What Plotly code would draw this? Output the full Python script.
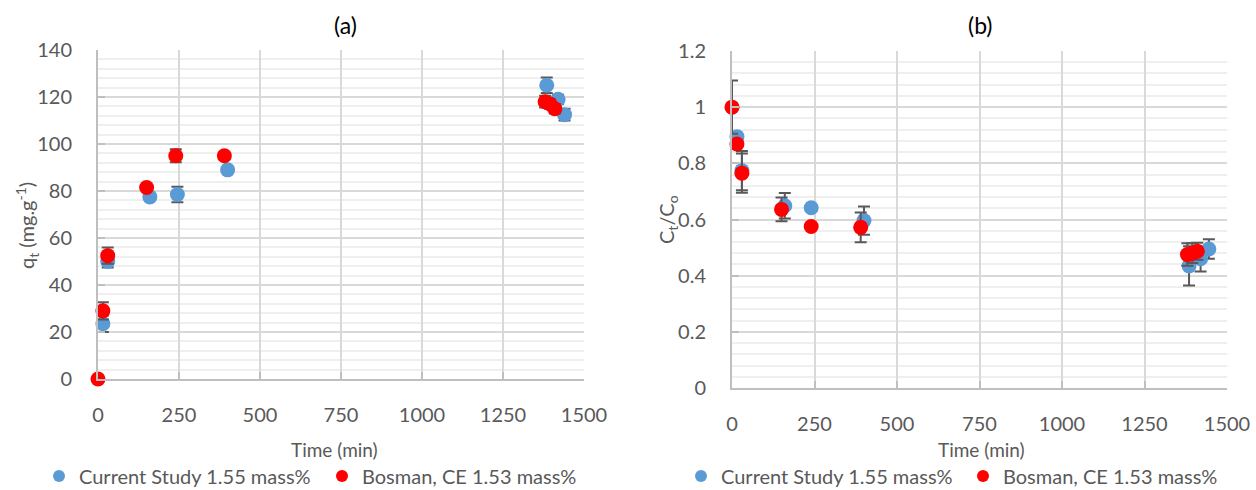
import plotly.graph_objects as go

# ---- data panel (a): q_t vs time ----
a_cur_t = [15, 30, 160, 245, 400, 1385, 1420, 1440]
a_cur_q = [23.5, 50.0, 77.5, 78.5, 89.0, 125.0, 119.0, 112.5]
a_cur_e = [3.5, 2.6, 0.0, 3.3, 0.0, 3.3, 2.0, 2.5]
a_bos_t = [0, 15, 30, 150, 240, 390, 1380, 1395, 1410]
a_bos_q = [0.0, 29.0, 52.5, 81.5, 95.0, 95.0, 118.0, 117.0, 115.0]
a_bos_e = [0.0, 3.7, 3.5, 0.0, 2.8, 1.5, 2.5, 2.0, 2.0]

# ---- data panel (b): Ct/Co vs time ----
b_cur_t = [15, 30, 160, 240, 400, 1385, 1420, 1445]
b_cur_c = [0.895, 0.774, 0.649, 0.642, 0.596, 0.435, 0.46, 0.495]
b_cur_e = [0.0, 0.07, 0.045, 0.0, 0.05, 0.07, 0.045, 0.035]
b_bos_t = [0, 15, 30, 150, 240, 390, 1380, 1395, 1410]
b_bos_c = [1.0, 0.869, 0.765, 0.636, 0.575, 0.572, 0.475, 0.48, 0.487]
b_bos_e = [0.095, 0.0, 0.07, 0.042, 0.0, 0.053, 0.04, 0.035, 0.03]

x_ticks = [0, 250, 500, 750, 1000, 1250, 1500]
legend_names = ["Current Study 1.55 mass%", "Bosman, CE 1.53 mass%"]

BLUE = "#5B9BD5"
RED = "#FF0000"
ERR = "#595959"
FONT = "Lato"
GREY = "#595959"

W, H = 1256, 490

def px_x(p):
    return p / W

def px_y(p):
    return 1 - p / H

fig = go.Figure()

def add(t, v, e, color, name, xa, ya, legend, show):
    fig.add_trace(go.Scatter(
        x=t, y=v, mode="markers", name=name,
        marker=dict(color=color, size=15),
        error_y=dict(type="data", array=e, visible=True, color=ERR, thickness=2, width=6),
        xaxis=xa, yaxis=ya, legend=legend, showlegend=show, cliponaxis=False,
    ))

add(a_cur_t, a_cur_q, a_cur_e, BLUE, legend_names[0], "x", "y", "legend", True)
add(a_bos_t, a_bos_q, a_bos_e, RED, legend_names[1], "x", "y", "legend", True)
add(b_cur_t, b_cur_c, b_cur_e, BLUE, legend_names[0], "x2", "y2", "legend2", True)
add(b_bos_t, b_bos_c, b_bos_e, RED, legend_names[1], "x2", "y2", "legend2", True)

xcommon = dict(range=[0, 1500], tickvals=x_ticks, showgrid=True, gridcolor="#D9D9D9", gridwidth=2,
               showline=True, linecolor="#BFBFBF", linewidth=2, mirror=False,
               ticks="inside", ticklen=7, tickcolor="#BFBFBF", tickwidth=2,
               tickfont=dict(family=FONT, size=20, color=GREY), zeroline=False,
               ticklabelstandoff=17)
ycommon = dict(showgrid=True, gridcolor="#D9D9D9", gridwidth=2,
               showline=True, linecolor="#BFBFBF", linewidth=2,
               ticks="inside", ticklen=7, tickcolor="#BFBFBF", tickwidth=2,
               tickfont=dict(family=FONT, size=20, color=GREY), zeroline=False,
               ticklabelstandoff=20)

LEGFONT = dict(family=FONT, size=20, color=GREY)

fig.update_layout(
    width=W, height=H,
    margin=dict(l=0, r=0, t=0, b=0, autoexpand=False),
    paper_bgcolor="white", plot_bgcolor="white",
    font=dict(family=FONT, color=GREY),
    xaxis=dict(domain=[px_x(98), px_x(584)], anchor="y", **xcommon),
    yaxis=dict(domain=[px_y(379), px_y(50)], anchor="x", range=[0, 140], dtick=20,
               minor=dict(dtick=4, showgrid=True, gridcolor="#EFEFEF", gridwidth=2), **ycommon),
    xaxis2=dict(domain=[px_x(732), px_x(1227)], anchor="y2", **xcommon),
    yaxis2=dict(domain=[px_y(388), px_y(51)], anchor="x2", range=[0, 1.2],
                tickvals=[0, 0.2, 0.4, 0.6, 0.8, 1.0, 1.2], ticktext=["0", "0.2", "0.4", "0.6", "0.8", "1", "1.2"],
                minor=dict(dtick=0.04, showgrid=True, gridcolor="#EFEFEF", gridwidth=2), **ycommon),
    legend=dict(orientation="h", x=px_x(39), xanchor="left", y=px_y(476), yanchor="middle",
                font=LEGFONT, itemsizing="constant", entrywidth=238, entrywidthmode="pixels",
                itemwidth=30, tracegroupgap=0, bgcolor="rgba(0,0,0,0)"),
    legend2=dict(orientation="h", x=px_x(681), xanchor="left", y=px_y(476), yanchor="middle",
                 font=LEGFONT, itemsizing="constant", entrywidth=237, entrywidthmode="pixels",
                 itemwidth=30, tracegroupgap=0, bgcolor="rgba(0,0,0,0)"),
    annotations=[
        dict(text="(a)", x=px_x(345), y=px_y(25), xref="paper", yref="paper", showarrow=False,
             xanchor="center", yanchor="middle", font=dict(family=FONT, size=23, color="#000000")),
        dict(text="(b)", x=px_x(980), y=px_y(25), xref="paper", yref="paper", showarrow=False,
             xanchor="center", yanchor="middle", font=dict(family=FONT, size=23, color="#000000")),
        dict(text="Time (min)", x=px_x(334), y=px_y(449), xref="paper", yref="paper", showarrow=False,
             xanchor="center", yanchor="middle", font=dict(family=FONT, size=19, color=GREY)),
        dict(text="Time (min)", x=px_x(981), y=px_y(449), xref="paper", yref="paper", showarrow=False,
             xanchor="center", yanchor="middle", font=dict(family=FONT, size=19, color=GREY)),
        dict(text="q<sub>t</sub> (mg.g<sup>-1</sup>)", x=px_x(27), y=px_y(226), xref="paper", yref="paper",
             xanchor="center", yanchor="middle",
             showarrow=False, textangle=-90, font=dict(family=FONT, size=20, color=GREY)),
        dict(text="C<sub>t</sub>/C<sub>o</sub>", x=px_x(667), y=px_y(220), xref="paper", yref="paper",
             xanchor="center", yanchor="middle",
             showarrow=False, textangle=-90, font=dict(family=FONT, size=20, color=GREY)),
    ],
)

fig.write_html("out.html")
